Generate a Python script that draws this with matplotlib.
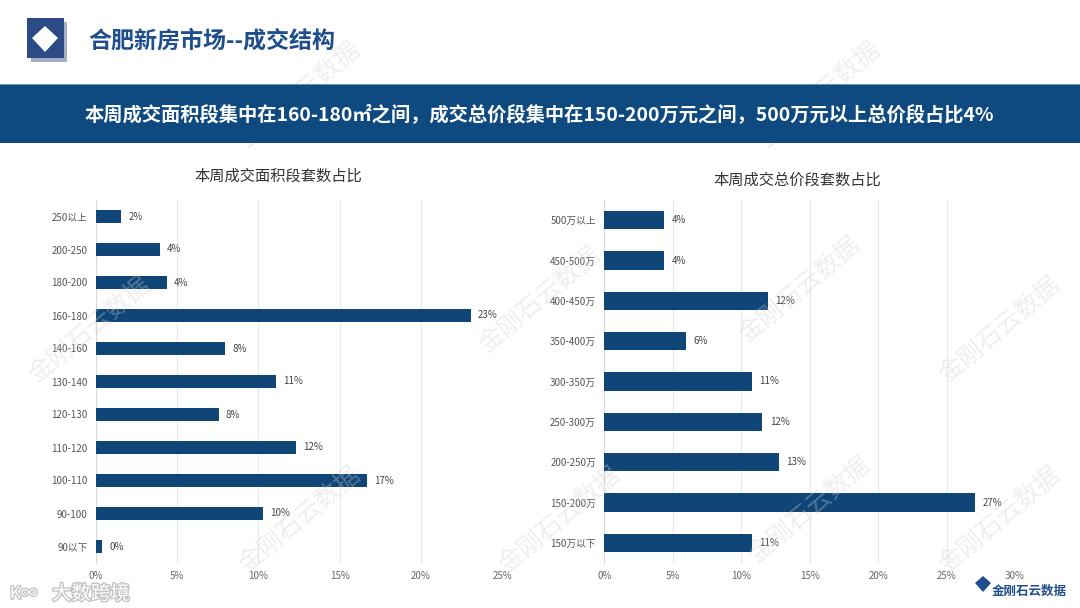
import matplotlib
matplotlib.use("Agg")
import matplotlib.pyplot as plt
import matplotlib.patheffects as pe
from matplotlib.patches import Rectangle, Polygon
from matplotlib.ticker import FuncFormatter, MultipleLocator

plt.rcParams['font.family'] = ['Noto Sans CJK SC', 'DejaVu Sans']

# ---------------- data ----------------
area_categories = ["250以上", "200-250", "180-200", "160-180", "140-160", "130-140",
                   "120-130", "110-120", "100-110", "90-100", "90以下"]
area_values = [1.55, 3.93, 4.36, 23.07, 7.93, 11.1, 7.55, 12.3, 16.7, 10.3, 0.37]
area_labels = ["2%", "4%", "4%", "23%", "8%", "11%", "8%", "12%", "17%", "10%", "0%"]

price_categories = ["500万以上", "450-500万", "400-450万", "350-400万", "300-350万",
                    "250-300万", "200-250万", "150-200万", "150万以下"]
price_values = [4.37, 4.37, 11.95, 5.98, 10.76, 11.54, 12.76, 27.1, 10.78]
price_labels = ["4%", "4%", "12%", "6%", "11%", "12%", "13%", "27%", "11%"]

page_title = "合肥新房市场--成交结构"
banner_text = "本周成交面积段集中在160-180㎡之间，成交总价段集中在150-200万元之间，500万元以上总价段占比4%"
area_title = "本周成交面积段套数占比"
price_title = "本周成交总价段套数占比"

BAR = "#0f4577"
NAVY = "#0e4a80"
W, H = 1080, 608

fig = plt.figure(figsize=(10.8, 6.08), dpi=100)
fig.patch.set_facecolor("white")

def fx(px):
    return px / W

def fy(py):
    return 1 - py / H

# ---------------- watermarks ----------------
wm_pos = [(300, 95), (820, 95), (90, 330), (540, 300), (800, 290),
          (1000, 330), (300, 520), (560, 520), (810, 510), (1000, 520)]
for (x, y) in wm_pos:
    fig.text(fx(x), fy(y), "金刚石云数据", fontsize=18, color="#d0d0d0", alpha=0.35,
             rotation=40, ha="center", va="center", zorder=0)

# ---------------- header ----------------
fig.add_artist(Rectangle((fx(31), fy(62)), fx(36), 40 / H, transform=fig.transFigure,
                         facecolor="#8f9bb5", edgecolor="none", alpha=0.8))
fig.add_artist(Rectangle((fx(27), fy(58)), fx(37), 40 / H, transform=fig.transFigure,
                         facecolor="#2c4a86", edgecolor="none"))
fig.add_artist(Polygon([(fx(45), fy(26)), (fx(58), fy(38)), (fx(45), fy(52)), (fx(32), fy(38))],
                       closed=True, transform=fig.transFigure, facecolor="white", edgecolor="none"))
fig.text(fx(88), fy(41), page_title, fontsize=16.6, fontweight="bold", color="#1f4e8c",
         va="center", ha="left")

fig.add_artist(Rectangle((0, fy(143)), 1, 59 / H, transform=fig.transFigure,
                         facecolor=NAVY, edgecolor="none"))
fig.add_artist(Rectangle((0, fy(85)), 1, 1.5 / H, transform=fig.transFigure,
                         facecolor="#6d93bd", edgecolor="none"))
fig.text(fx(539), fy(114), banner_text, fontsize=13.9, color="white",
         va="center", ha="center", fontweight="bold")

# ---------------- charts ----------------
def draw(ax, cats, vals, labels, xmax, bar_h):
    y = list(range(len(cats)))
    ax.barh(y, vals, height=bar_h, color=BAR, zorder=3)
    for yi, v, lab in zip(y, vals, labels):
        ax.text(v + xmax * 0.018, yi, lab, fontsize=7, color="#444444",
                va="center", ha="left", zorder=4)
    ax.set_yticks(y)
    ax.set_yticklabels(cats, fontsize=7, color="#555555")
    ax.set_ylim(len(cats) - 0.5, -0.5)
    ax.set_xlim(0, xmax)
    ax.xaxis.set_major_locator(MultipleLocator(5))
    ax.xaxis.set_major_formatter(FuncFormatter(lambda v, p: f"{v:.0f}%"))
    ax.tick_params(axis="x", labelsize=7, labelcolor="#666666", length=0, pad=6)
    ax.tick_params(axis="y", length=0, pad=6)
    ax.grid(axis="x", color="#e8e8e8", linewidth=0.8, zorder=0)
    for s in ["top", "right", "bottom"]:
        ax.spines[s].set_visible(False)
    ax.spines["left"].set_color("#d9d9d9")
    ax.spines["left"].set_linewidth(0.8)
    ax.set_facecolor("none")

ax1 = fig.add_axes([fx(96), fy(563), fx(502) - fx(96), (563 - 200) / H])
draw(ax1, area_categories, area_values, area_labels, 25, 0.42)
fig.text(fx(278), fy(176), area_title, fontsize=11, color="#333333",
         ha="center", va="center", fontweight="medium")

ax2 = fig.add_axes([fx(604.3), fy(563), fx(1015) - fx(604.3), (563 - 200) / H])
draw(ax2, price_categories, price_values, price_labels, 30, 0.45)
fig.text(fx(797), fy(180), price_title, fontsize=11, color="#333333",
         ha="center", va="center", fontweight="medium")

# ---------------- footer marks ----------------
fig.text(fx(52), fy(594), "大数跨境", fontsize=14, color="white", ha="left", va="center",
         path_effects=[pe.withStroke(linewidth=2, foreground="#c4c4c4")])
fig.text(fx(10), fy(594), "K∞", fontsize=12, color="white", ha="left", va="center",
         path_effects=[pe.withStroke(linewidth=2, foreground="#c4c4c4")])
fig.add_artist(Polygon([(fx(975), fy(583)), (fx(983), fy(576)), (fx(991), fy(583)), (fx(983), fy(592))],
                       closed=True, transform=fig.transFigure, facecolor="#1f4e8c", edgecolor="none"))
fig.text(fx(992), fy(591), "金刚石云数据", fontsize=9, color="#1f4e8c", ha="left",
         va="center", fontweight="bold")

fig.savefig("out.png", dpi=100)
